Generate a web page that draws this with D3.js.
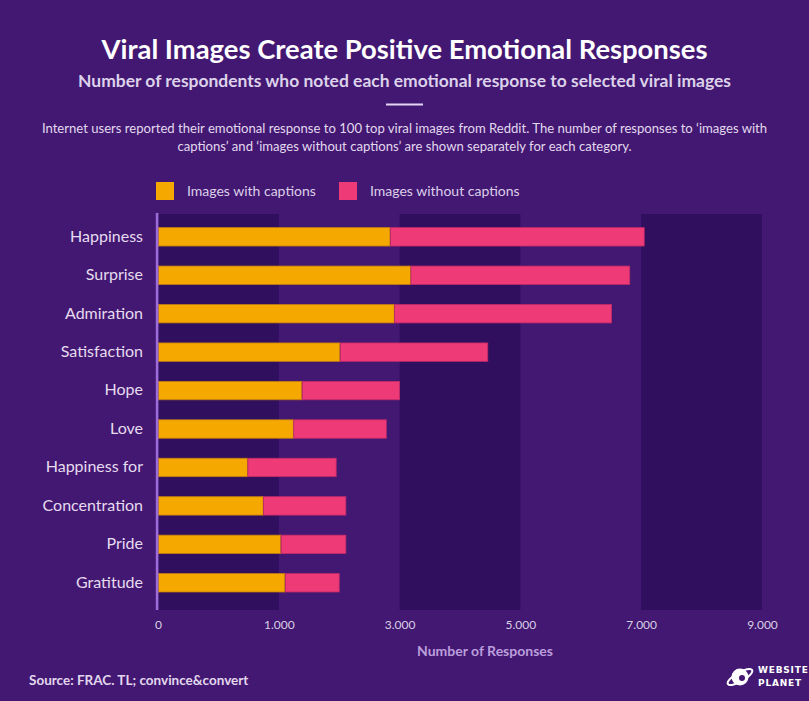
<!DOCTYPE html>
<html>
<head>
<meta charset="utf-8">
<script src="https://cdn.jsdelivr.net/npm/d3@7"></script>
<style>
  html, body { margin: 0; padding: 0; background: #431872; }
  svg { display: block; font-family: Lato, "Open Sans", sans-serif; }
</style>
</head>
<body>
<svg id="chart" width="809" height="701"></svg>
<script>
// ---- data ----
const categories = ["Happiness", "Surprise", "Admiration", "Satisfaction", "Hope", "Love",
  "Happiness for", "Concentration", "Pride", "Gratitude"];
const withCaptions =    [2840, 3180, 2910, 2010, 1380, 1240,  740,  870, 1030, 1100];
const withoutCaptions = [4210, 3630, 3600, 2450, 1620, 1540, 1210, 1240, 1080,  900];
const tickValues = [0, 1000, 3000, 5000, 7000, 9000];
const tickLabels = ["0", "1.000", "3.000", "5.000", "7.000", "9.000"];
const seriesNames = ["Images with captions", "Images without captions"];
const seriesColors = ["#f5a800", "#ef3a78"];

const svg = d3.select("#chart");
const W = 809, H = 701;
svg.append("rect").attr("width", W).attr("height", H).attr("fill", "#431872");

// ---- titles ----
svg.append("text").attr("x", W / 2).attr("y", 59).attr("text-anchor", "middle")
  .attr("fill", "#ffffff").attr("font-size", 27.3).attr("font-weight", 700)
  .attr("textLength", 606).attr("lengthAdjust", "spacingAndGlyphs")
  .text("Viral Images Create Positive Emotional Responses");
svg.append("text").attr("x", W / 2).attr("y", 87).attr("text-anchor", "middle")
  .attr("fill", "#dcd2ea").attr("font-size", 17.4).attr("font-weight", 700)
  .attr("textLength", 653).attr("lengthAdjust", "spacingAndGlyphs")
  .text("Number of respondents who noted each emotional response to selected viral images");
svg.append("rect").attr("x", 386).attr("y", 103.5).attr("width", 37).attr("height", 2)
  .attr("fill", "#e4d6f2");
const desc = [
  "Internet users reported their emotional response to 100 top viral images from Reddit. The number of responses to \u2018images with",
  "captions\u2019 and \u2018images without captions\u2019 are shown separately for each category."
];
svg.append("g").selectAll("text").data(desc).join("text")
  .attr("x", W / 2).attr("y", (d, i) => 132.5 + i * 18).attr("text-anchor", "middle")
  .attr("fill", "#e2d8ee").attr("font-size", 13.1)
  .text(d => d);

// ---- legend ----
const legendX = [156, 339];
const lg = svg.append("g").selectAll("g").data(seriesNames).join("g")
  .attr("transform", (d, i) => `translate(${legendX[i]},182)`);
lg.append("rect").attr("width", 18).attr("height", 18).attr("fill", (d, i) => seriesColors[i]);
lg.append("text").attr("x", 31).attr("y", 14).attr("fill", "#dccfea").attr("font-size", 14)
  .text(d => d);

// ---- scales ----
const plotL = 158, plotR = 762, plotT = 214, plotB = 610;
const pw = plotR - plotL;
const x = d3.scaleLinear()
  .domain(tickValues)
  .range(tickValues.map((d, i) => plotL + i * pw / (tickValues.length - 1)));
const y = d3.scaleBand().domain(categories).range([217.6, 602]).paddingInner(0.5).paddingOuter(0.25);

// background column bands
const bands = d3.range(0, tickValues.length - 1, 2);
svg.append("g").selectAll("rect").data(bands).join("rect")
  .attr("x", i => x(tickValues[i])).attr("width", i => x(tickValues[i + 1]) - x(tickValues[i]))
  .attr("y", plotT).attr("height", plotB - plotT).attr("fill", "#2f0f5e");

// stacked bars
const rows = categories.map((c, i) => ({ cat: c, a: withCaptions[i], b: withoutCaptions[i] }));
const stack = d3.stack().keys(["a", "b"])(rows);
const strokeColors = ["#c07d10", "#c02a68"];
svg.append("g").selectAll("g").data(stack).join("g")
  .attr("fill", (d, i) => seriesColors[i])
  .attr("stroke", (d, i) => strokeColors[i]).attr("stroke-width", 0.8)
  .selectAll("rect").data(d => d).join("rect")
  .attr("x", d => x(d[0]) + 0.5)
  .attr("width", d => x(d[1]) - x(d[0]) - 0.5)
  .attr("y", d => y(d.data.cat) + 0.4)
  .attr("height", y.bandwidth() - 0.8);

// y axis line
svg.append("rect").attr("x", 155.8).attr("y", 213).attr("width", 2.6).attr("height", plotB - 213)
  .attr("fill", "#9d6cd9");

// category labels
const yAxis = d3.axisLeft(y).tickSize(0).tickPadding(0);
const ya = svg.append("g").attr("transform", `translate(143,0)`).call(yAxis);
ya.select(".domain").remove();
ya.selectAll("text").attr("fill", "#e6dcef").attr("font-size", 16)
  .attr("font-family", "Lato, sans-serif").attr("dy", "0.3em");

// x axis ticks
const xAxis = d3.axisBottom(x).tickValues(tickValues).tickSize(0).tickPadding(0)
  .tickFormat((d, i) => tickLabels[i]);
const xa = svg.append("g").attr("transform", `translate(0,620)`).call(xAxis);
xa.select(".domain").remove();
xa.selectAll("text").attr("fill", "#d8cfe4").attr("font-size", 12)
  .attr("font-family", "Lato, sans-serif").attr("dy", "0.71em");

svg.append("text").attr("x", 485).attr("y", 656).attr("text-anchor", "middle")
  .attr("fill", "#bb9fdc").attr("font-size", 14).attr("font-weight", 700)
  .text("Number of Responses");

// source
svg.append("text").attr("x", 29).attr("y", 685).attr("fill", "#e2d8ee")
  .attr("font-size", 13.5).attr("font-weight", 700)
  .text("Source: FRAC. TL; convince&convert");

// logo
const logo = svg.append("g").attr("transform", "translate(740,677)");
logo.append("circle").attr("r", 8.5).attr("fill", "#ffffff");
logo.append("ellipse").attr("rx", 14).attr("ry", 4.5).attr("fill", "none")
  .attr("stroke", "#ffffff").attr("stroke-width", 2).attr("transform", "rotate(-30)");
logo.append("circle").attr("cx", 2).attr("cy", 1).attr("r", 3).attr("fill", "#431872");
svg.append("text").attr("x", 758).attr("y", 673).attr("fill", "#ffffff")
  .attr("font-size", 9).attr("font-weight", 700).attr("letter-spacing", 0.8)
  .attr("font-family", "'DejaVu Sans', sans-serif").text("WEBSITE");
svg.append("text").attr("x", 758).attr("y", 686).attr("fill", "#ffffff")
  .attr("font-size", 9).attr("font-weight", 700).attr("letter-spacing", 0.8)
  .attr("font-family", "'DejaVu Sans', sans-serif").text("PLANET");
</script>
</body>
</html>
